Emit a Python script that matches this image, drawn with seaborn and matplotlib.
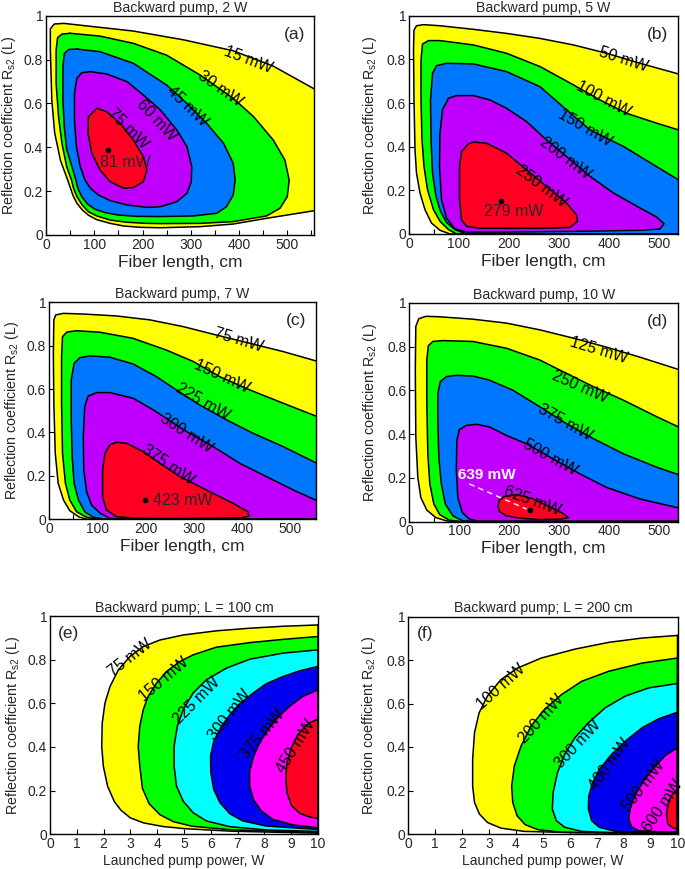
import matplotlib
matplotlib.use("Agg")
import numpy as np
import pandas as pd
import seaborn as sns
import matplotlib.pyplot as plt
from matplotlib.ticker import MultipleLocator, FuncFormatter

# ---------------- data (contour outlines) ----------------
# panel (a): Backward pump, 2 W  (x = fiber length cm, y = R_s2)
a15 = [(565,0.655),(471,0.77),(388,0.84),(285,0.89),(181,0.93),(78,0.955),(37,0.965),(17,0.962),(9,0.94),(9,0.845),(12,0.615),(18,0.465),(30,0.34),(45,0.25),(56,0.18),(64,0.145),(75,0.115),(88,0.09),(105,0.07),(133,0.053),(161,0.041),(195,0.035),(237,0.033),(319,0.038),(388,0.05),(457,0.076),(565,0.114)]
a30 = [(50,0.92),(112,0.907),(181,0.874),(250,0.82),(319,0.73),(388,0.623),(430,0.54),(471,0.433),(495,0.342),(504,0.25),(500,0.175),(485,0.122),(457,0.087),(388,0.061),(319,0.053),(237,0.052),(209,0.053),(168,0.058),(133,0.068),(105,0.087),(88,0.106),(75,0.137),(64,0.175),(57,0.213),(53,0.25),(43,0.31),(33,0.418),(26,0.54),(21,0.69),(21,0.843),(24,0.90),(33,0.916)]
a45 = [(64,0.848),(112,0.836),(181,0.783),(250,0.684),(292,0.60),(333,0.509),(368,0.418),(388,0.327),(392,0.251),(388,0.182),(374,0.129),(354,0.099),(306,0.087),(237,0.084),(188,0.085),(150,0.091),(123,0.102),(102,0.117),(86,0.141),(74,0.175),(66,0.213),(62,0.25),(54,0.31),(43,0.39),(38,0.49),(35,0.615),(35,0.767),(38,0.828),(47,0.846)]
a60 = [(74,0.74),(92,0.745),(126,0.734),(168,0.699),(202,0.638),(237,0.57),(271,0.479),(292,0.403),(302,0.312),(301,0.243),(292,0.19),(271,0.152),(237,0.129),(209,0.126),(168,0.137),(133,0.157),(109,0.182),(92,0.213),(81,0.25),(71,0.312),(63,0.403),(59,0.524),(59,0.646),(64,0.714)]
a75 = [(88,0.54),(106,0.578),(126,0.562),(154,0.509),(181,0.433),(202,0.357),(209,0.296),(202,0.243),(181,0.216),(161,0.213),(133,0.243),(112,0.296),(95,0.372),(87,0.464)]
a_labels = ["15 mW", "30 mW", "45 mW", "60 mW", "75 mW"]
a_label_pos = [(420,0.80,-21),(361,0.668,-35),(292,0.585,-44),(230,0.524,-47),(171,0.486,-45)]
a_max = (128, 0.389, "81 mW")

# panel (b): Backward pump, 5 W
b50 = [(550,0.726),(462,0.782),(395,0.828),(329,0.866),(262,0.896),(195,0.919),(129,0.9375),(62,0.954),(29,0.959),(15,0.954),(10,0.934),(9,0.843),(10,0.614),(12,0.386),(15,0.279),(22,0.1875),(32,0.111),(45,0.05),(62,0.017),(82,0.0),(550,0.0)]
b100 = [(550,0.469),(495,0.508),(435,0.553),(382,0.614),(329,0.683),(262,0.767),(195,0.828),(129,0.866),(62,0.886),(39,0.886),(27,0.87),(24,0.797),(24,0.614),(26,0.431),(30,0.309),(37,0.203),(49,0.111),(62,0.058),(79,0.02),(95,0.0),(550,0.0)]
b150 = [(550,0.233),(495,0.309),(429,0.401),(362,0.477),(315,0.569),(262,0.675),(195,0.744),(129,0.779),(75,0.782),(55,0.771),(47,0.736),(43,0.614),(44,0.431),(47,0.279),(54,0.172),(63,0.104),(75,0.053),(92,0.02),(115,0.0),(550,0.0)]
b200 = [(95,0.634),(129,0.634),(162,0.614),(195,0.576),(235,0.515),(275,0.431),(315,0.355),(362,0.264),(409,0.1875),(462,0.119),(495,0.078),(510,0.047),(502,0.023),(462,0.017),(329,0.012),(195,0.009),(115,0.009),(92,0.023),(75,0.073),(65,0.157),(61,0.309),(62,0.462),(67,0.569),(79,0.622)]
b250 = [(129,0.421),(155,0.416),(195,0.370),(235,0.294),(275,0.218),(315,0.142),(335,0.088),(337,0.058),(322,0.03),(262,0.026),(195,0.026),(142,0.026),(115,0.035),(105,0.066),(101,0.157),(101,0.309),(105,0.378),(119,0.413)]
b_labels = ["50 mW", "100 mW", "150 mW", "200 mW", "250 mW"]
b_label_pos = [(429,0.797,-18),(389,0.62,-28),(352,0.485,-30),(312,0.348,-37),(265,0.218,-37)]
b_max = (184, 0.149, "279 mW")

# panel (c): Backward pump, 7 W
c75 = [(565,0.722),(485,0.773),(416,0.811),(347,0.849),(278,0.888),(209,0.919),(140,0.937),(71,0.946),(30,0.949),(14,0.942),(10,0.919),(9,0.765),(10,0.535),(13,0.304),(19,0.166),(30,0.089),(43,0.04),(61,0.012),(78,0.0),(565,0.0)]
c150 = [(565,0.465),(485,0.535),(416,0.596),(354,0.657),(299,0.727),(243,0.78),(174,0.834),(106,0.862),(57,0.869),(37,0.863),(28,0.842),(26,0.75),(26,0.535),(28,0.304),(34,0.166),(43,0.089),(57,0.035),(78,0.009),(99,0.0),(565,0.0)]
c225 = [(565,0.247),(485,0.335),(423,0.396),(368,0.458),(312,0.527),(264,0.596),(223,0.657),(174,0.716),(126,0.747),(85,0.753),(64,0.745),(52,0.719),(46,0.642),(46,0.458),(48,0.289),(52,0.166),(61,0.089),(74,0.035),(92,0.009),(119,0.0),(565,0.0)]
c300 = [(565,0.076),(506,0.135),(450,0.197),(395,0.258),(340,0.335),(285,0.404),(243,0.465),(216,0.504),(174,0.558),(126,0.584),(99,0.584),(81,0.568),(74,0.519),(71,0.381),(72,0.227),(78,0.127),(88,0.066),(106,0.028),(126,0.005),(161,0.0),(565,0.0)]
c375 = [(140,0.355),(161,0.35),(195,0.312),(230,0.258),(271,0.197),(326,0.135),(381,0.074),(412,0.035),(414,0.015),(402,0.008),(347,0.005),(243,0.003),(174,0.005),(140,0.012),(119,0.043),(111,0.104),(111,0.227),(116,0.304),(126,0.343)]
c_labels = ["75 mW", "150 mW", "225 mW", "300 mW", "375 mW"]
c_label_pos = [(392,0.827,-17),(357,0.657,-25),(319,0.542,-30),(285,0.396,-33),(247,0.25,-34)]
c_max = (199, 0.089, "423 mW")

# panel (d): Backward pump, 10 W
d125 = [(550,0.687),(461,0.752),(394,0.798),(328,0.839),(261,0.877),(194,0.908),(127,0.926),(60,0.937),(33,0.939),(19,0.928),(13,0.893),(12,0.693),(13,0.387),(17,0.202),(23,0.11),(35,0.052),(53,0.018),(74,0.003),(87,0.0),(550,0.0)]
d250 = [(550,0.42),(495,0.479),(428,0.555),(368,0.617),(314,0.678),(261,0.739),(194,0.793),(127,0.824),(67,0.828),(47,0.824),(38,0.804),(35,0.739),(35,0.54),(37,0.31),(41,0.172),(49,0.08),(61,0.031),(80,0.006),(100,0.0),(550,0.0)]
d375 = [(550,0.205),(495,0.248),(428,0.31),(368,0.379),(314,0.448),(261,0.525),(207,0.601),(160,0.647),(127,0.666),(94,0.669),(74,0.663),(62,0.64),(57,0.586),(57,0.463),(59,0.294),(64,0.172),(72,0.08),(87,0.026),(107,0.003),(127,0.0),(550,0.0)]
d500 = [(550,0.056),(461,0.103),(394,0.156),(341,0.218),(287,0.287),(234,0.356),(194,0.394),(160,0.433),(134,0.445),(114,0.44),(100,0.42),(95,0.371),(94,0.233),(97,0.11),(106,0.041),(120,0.011),(140,0.0),(550,0.0)]
d625 = [(190,0.115),(214,0.123),(247,0.104),(281,0.067),(307,0.037),(318,0.018),(304,0.011),(261,0.009),(221,0.015),(194,0.026),(180,0.046),(177,0.072),(180,0.098)]
d_labels = ["125 mW", "250 mW", "375 mW", "500 mW", "625 mW"]
d_label_pos = [(378,0.785,-17),(341,0.617,-24),(311,0.455,-29),(281,0.294,-29),(247,0.095,-20)]
d_max = (242, 0.054, "639 mW")
d_pointer = [(120, 0.172), (234, 0.057)]

# panel (e): Backward pump; L = 100 cm  (x = launched pump power, W)
e75 = [(10,0.959),(8.7,0.953),(7.45,0.944),(6.2,0.932),(4.97,0.913),(4.1,0.89),(3.48,0.86),(2.98,0.814),(2.55,0.753),(2.24,0.677),(2.05,0.601),(1.95,0.51),(1.93,0.403),(1.99,0.312),(2.15,0.22),(2.4,0.15),(2.65,0.11),(3.0,0.075),(3.5,0.052),(4.2,0.036),(5.0,0.026),(6.8,0.014),(10,0.005)]
e150 = [(10,0.906),(8.7,0.893),(7.45,0.878),(6.2,0.857),(5.34,0.822),(4.84,0.791),(4.35,0.746),(3.98,0.693),(3.66,0.632),(3.48,0.571),(3.35,0.495),(3.29,0.403),(3.35,0.312),(3.45,0.21),(3.7,0.14),(4.1,0.09),(4.6,0.058),(5.3,0.037),(6.8,0.02),(10,0.009)]
e225 = [(10,0.845),(8.7,0.83),(7.45,0.802),(6.58,0.761),(5.84,0.708),(5.34,0.647),(4.97,0.571),(4.75,0.495),(4.63,0.403),(4.63,0.312),(4.72,0.221),(4.97,0.152),(5.34,0.099),(5.84,0.061),(6.71,0.035),(8.07,0.02),(10,0.013)]
e300 = [(10,0.769),(9.32,0.749),(8.7,0.723),(8.07,0.69),(7.58,0.647),(7.08,0.598),(6.71,0.548),(6.36,0.487),(6.11,0.426),(5.99,0.358),(6.0,0.282),(6.11,0.205),(6.34,0.145),(6.71,0.094),(7.2,0.061),(8.07,0.038),(10,0.022)]
e375 = [(10,0.662),(9.44,0.632),(8.94,0.586),(8.51,0.537),(8.14,0.479),(7.83,0.422),(7.6,0.358),(7.45,0.289),(7.45,0.221),(7.6,0.157),(7.89,0.107),(8.32,0.068),(9.07,0.043),(10,0.03)]
e450 = [(10,0.528),(9.63,0.507),(9.25,0.457),(9.01,0.396),(8.84,0.327),(8.8,0.259),(8.84,0.19),(9.01,0.132),(9.32,0.096),(9.69,0.079),(10,0.073)]
e_labels = ["75 mW", "150 mW", "225 mW", "300 mW", "375 mW", "450 mW"]
e_label_pos = [(2.98,0.807,38),(4.25,0.708,40),(5.47,0.609,45),(6.71,0.548,52),(7.95,0.457,50),(9.19,0.403,58)]

# panel (f): Backward pump; L = 200 cm
f100 = [(10,0.913),(8.69,0.901),(7.44,0.881),(6.19,0.85),(4.94,0.809),(4.06,0.763),(3.44,0.71),(2.94,0.634),(2.63,0.557),(2.46,0.466),(2.39,0.344),(2.39,0.221),(2.46,0.145),(2.64,0.092),(2.94,0.053),(3.44,0.027),(4.31,0.012),(6.19,0.006),(10,0.003)]
f200 = [(10,0.809),(8.69,0.786),(7.44,0.748),(6.44,0.702),(5.69,0.641),(5.06,0.573),(4.56,0.496),(4.19,0.405),(3.94,0.313),(3.84,0.221),(3.88,0.145),(4.04,0.084),(4.34,0.043),(4.81,0.02),(5.69,0.008),(7.44,0.005),(10,0.004)]
f300 = [(10,0.692),(8.94,0.672),(8.06,0.634),(7.31,0.58),(6.69,0.511),(6.19,0.443),(5.81,0.366),(5.54,0.282),(5.38,0.191),(5.35,0.115),(5.5,0.061),(5.81,0.031),(6.44,0.012),(7.69,0.006),(10,0.005)]
f400 = [(10,0.56),(9.31,0.53),(8.69,0.489),(8.06,0.427),(7.5,0.359),(7.09,0.295),(6.84,0.234),(6.7,0.173),(6.69,0.115),(6.81,0.061),(7.09,0.031),(7.69,0.012),(8.69,0.008),(10,0.007)]
f500 = [(10,0.397),(9.56,0.362),(9.13,0.305),(8.75,0.244),(8.44,0.183),(8.25,0.122),(8.19,0.069),(8.29,0.034),(8.56,0.015),(9.31,0.01),(10,0.009)]
f600 = [(10,0.202),(9.81,0.183),(9.66,0.145),(9.59,0.092),(9.64,0.046),(9.84,0.027),(10,0.023)]
f_labels = ["100 mW", "200 mW", "300 mW", "400 mW", "500 mW", "600 mW"]
f_label_pos = [(3.44,0.679,42),(4.94,0.527,48),(6.31,0.412,47),(7.5,0.321,54),(8.75,0.221,52),(9.44,0.13,56)]

titles = ["Backward pump, 2 W", "Backward pump, 5 W", "Backward pump, 7 W",
          "Backward pump, 10 W", "Backward pump; L = 100 cm", "Backward pump; L = 200 cm"]
letters = ["(a)", "(b)", "(c)", "(d)", "(e)", "(f)"]

COL_TOP = ["#FFFF00", "#00FF00", "#0077FF", "#C000FF", "#FF0022"]
COL_BOT = ["#FFFF00", "#00FF00", "#00FFFF", "#0000F0", "#FF00FF", "#FF0022"]

# ---------------- style ----------------
sns.set_style("ticks")
plt.rcParams['font.family'] = ['Liberation Sans', 'DejaVu Sans']
plt.rcParams['mathtext.fontset'] = 'custom'
plt.rcParams['mathtext.rm'] = 'Liberation Sans'
plt.rcParams['mathtext.it'] = 'Liberation Sans:italic'
plt.rcParams['axes.edgecolor'] = 'black'
plt.rcParams['axes.linewidth'] = 1.0

fig = plt.figure(figsize=(6.85, 8.69), dpi=100)
W, H = 685.0, 869.0
def add_ax(L, R, T, B):
    return fig.add_axes([L / W, 1 - B / H, (R - L) / W, (B - T) / H])

axes = [add_ax(46, 314.3, 15.7, 235), add_ax(409, 678, 15.7, 234),
        add_ax(49, 316, 302.3, 519.3), add_ax(409.3, 678, 303, 521.5),
        add_ax(50, 318, 616, 834.3), add_ax(408.3, 677.5, 616.5, 834)]
xmax = [556, 538, 553, 537, 10, 10]

panels = [([a15, a30, a45, a60, a75], COL_TOP, a_labels, a_label_pos),
          ([b50, b100, b150, b200, b250], COL_TOP, b_labels, b_label_pos),
          ([c75, c150, c225, c300, c375], COL_TOP, c_labels, c_label_pos),
          ([d125, d250, d375, d500, d625], COL_TOP, d_labels, d_label_pos),
          ([e75, e150, e225, e300, e375, e450], COL_BOT, e_labels, e_label_pos),
          ([f100, f200, f300, f400, f500, f600], COL_BOT, f_labels, f_label_pos)]

ylab = r"Reflection coefficient R$_{\mathrm{s2}}$ (L)"

for i, (ax, (conts, cols, labs, lpos)) in enumerate(zip(axes, panels)):
    for pts, col in zip(conts, cols):
        xs = [p[0] for p in pts]
        ys = [p[1] for p in pts]
        ax.fill(xs, ys, color=col, lw=0, zorder=1)
        df = pd.DataFrame({"x": xs + [xs[0]], "y": ys + [ys[0]]})
        sns.lineplot(data=df, x="x", y="y", sort=False, estimator=None,
                     color="black", lw=1.1, ax=ax, zorder=2)
    for lab, (lx, ly, rot) in zip(labs, lpos):
        ax.text(lx, ly, lab, rotation=rot, rotation_mode="anchor", ha="center",
                va="center", fontsize=11.5, color="black", zorder=5)
    ax.set_xlim(0, xmax[i])
    ax.set_ylim(0, 1)
    ax.set_title(titles[i], fontsize=10.2, pad=3)
    ax.set_ylabel(ylab, fontsize=10.3, labelpad=4 if i % 2 == 0 else 6)
    ax.yaxis.set_major_locator(MultipleLocator(0.2))
    ax.yaxis.set_major_formatter(FuncFormatter(lambda v, p: "%g" % round(v, 2)))
    if i < 4:
        ax.xaxis.set_major_locator(MultipleLocator(100))
        ax.xaxis.set_minor_locator(MultipleLocator(50))
        ax.set_xlabel("Fiber length, cm", fontsize=12.5, labelpad=2)
        ax.text(0.965, 0.915, letters[i], transform=ax.transAxes, ha="right",
                va="center", fontsize=12.5, zorder=6)
    else:
        ax.xaxis.set_major_locator(MultipleLocator(1))
        ax.set_xlabel("Launched pump power, W", fontsize=10, labelpad=2)
        ax.text(0.03, 0.922, letters[i], transform=ax.transAxes, ha="left",
                va="center", fontsize=12.5, zorder=6)
    ax.tick_params(axis="both", which="both", direction="in", length=3.5,
                   width=0.8, color="black", labelsize=10, pad=2)
    for s in ax.spines.values():
        s.set_zorder(10)

# maxima markers
for ax, (mx, my, mt) in zip(axes[:3], [a_max, b_max, c_max]):
    sns.scatterplot(x=[mx], y=[my], color="black", s=14, ax=ax, zorder=6, edgecolor="black")
axes[0].text(164, 0.33, a_max[2], ha="center", va="center", fontsize=11.5, zorder=6)
axes[1].text(209, 0.104, b_max[2], ha="center", va="center", fontsize=11.5, zorder=6)
axes[2].text(215, 0.085, c_max[2], ha="left", va="center", fontsize=11.5, zorder=6)
sns.scatterplot(x=[d_max[0]], y=[d_max[1]], color="black", s=14, ax=axes[3], zorder=6, edgecolor="black")
axes[3].plot([d_pointer[0][0], d_pointer[1][0]], [d_pointer[0][1], d_pointer[1][1]],
             color="white", lw=1.0, ls=(0, (4, 3)), zorder=6)
axes[3].text(97, 0.215, d_max[2], ha="left", va="center", fontsize=11,
             fontweight="bold", color="white", zorder=6)

for ax, xm in zip(axes, xmax):
    ax.set_xlim(0, xm)
    ax.set_ylim(0, 1)

fig.savefig("out.png", dpi=100)
